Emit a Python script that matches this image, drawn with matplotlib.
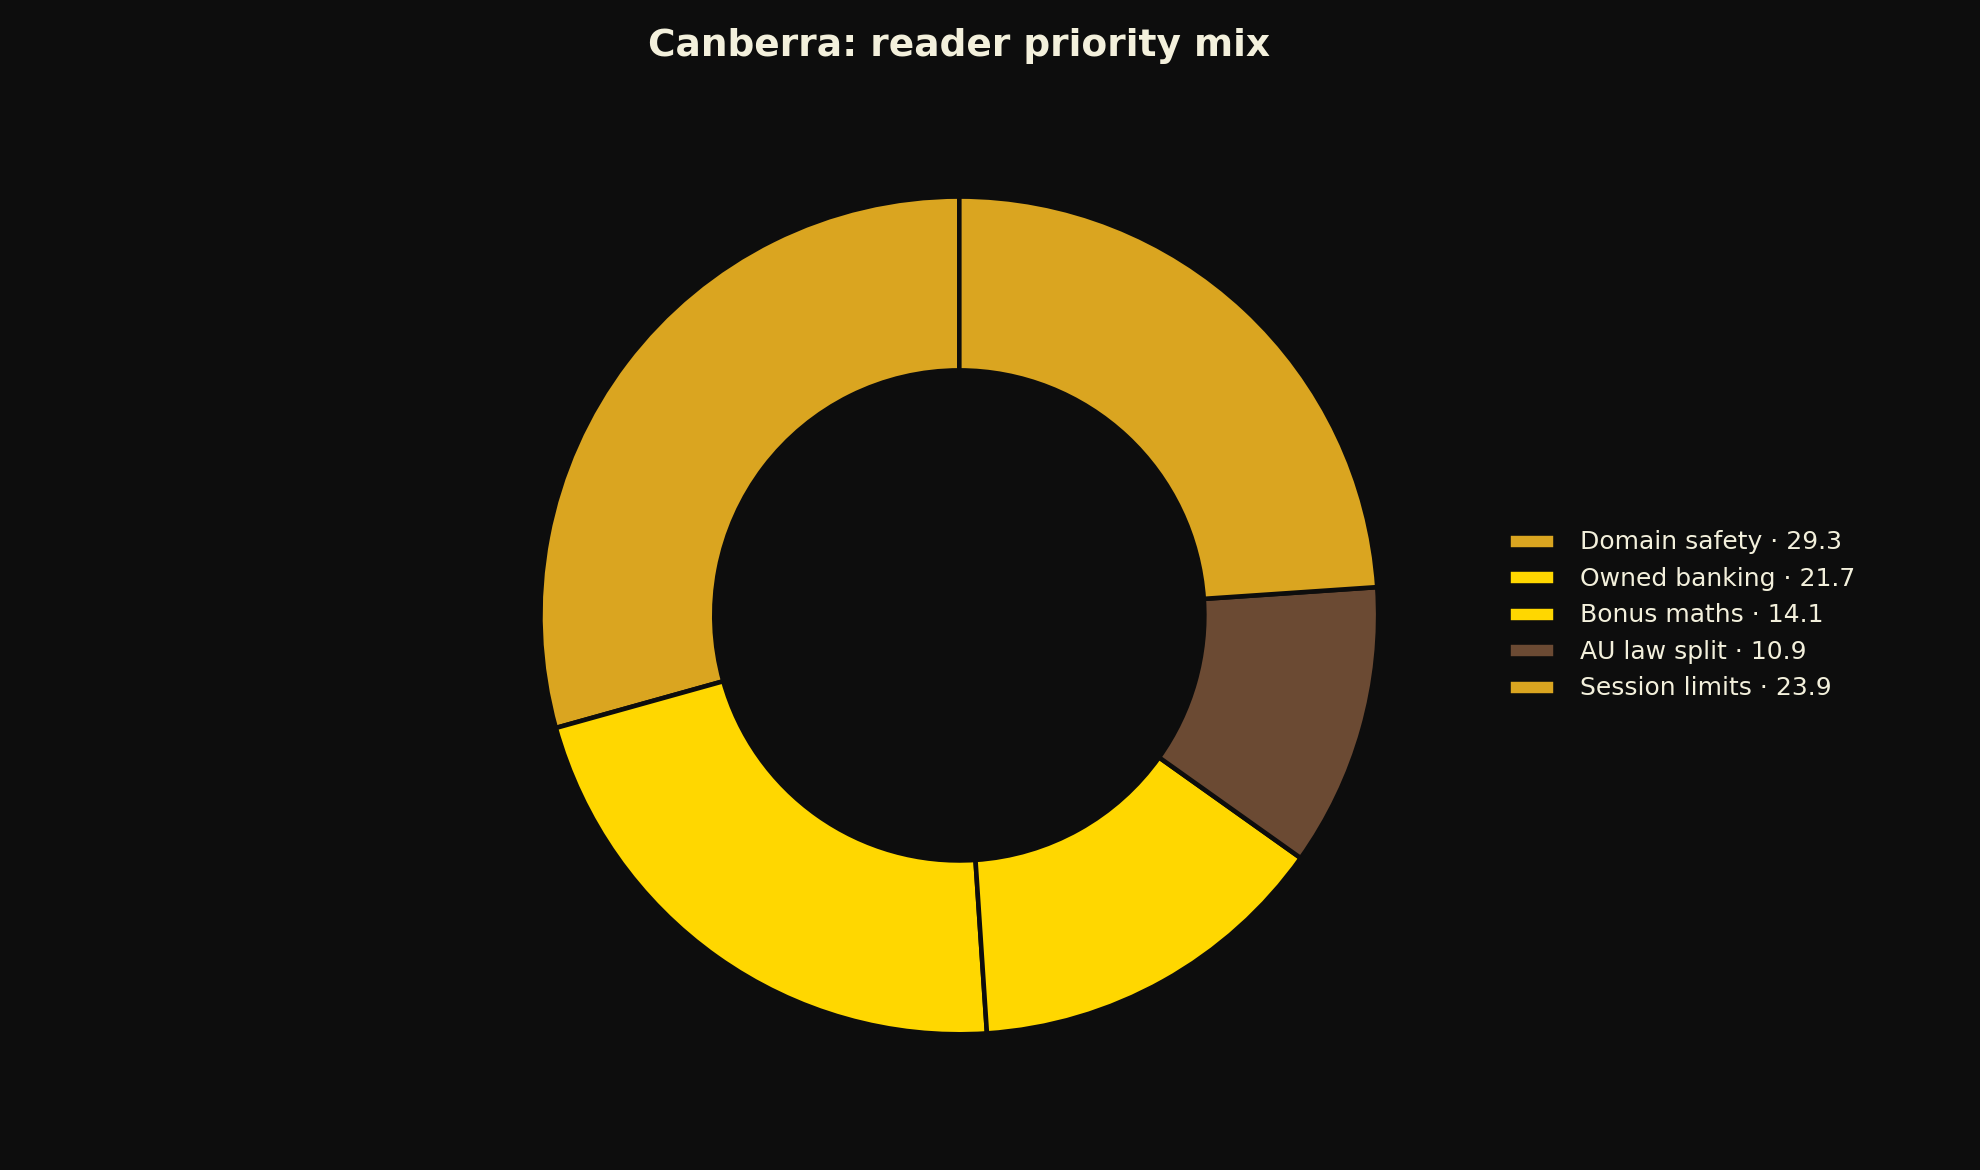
import matplotlib
matplotlib.use('Agg')
import matplotlib.pyplot as plt

labels = ['Domain safety', 'Owned banking', 'Bonus maths', 'AU law split', 'Session limits']
values = [29.3, 21.7, 14.1, 10.9, 23.9]
colors = ['#DAA520', '#FFD700', '#FFD700', '#6B4A33', '#DAA520']

bg = '#0D0D0D'
txt = '#F3F0DC'

fig = plt.figure(figsize=(13.2, 7.8), dpi=150, facecolor=bg)
ax = fig.add_axes([0.220, 0.0265, 0.529, 0.895])
ax.set_facecolor(bg)

wedges, _ = ax.pie(values, colors=colors, startangle=90, counterclock=True,
                   wedgeprops=dict(width=0.415, edgecolor=bg, linewidth=2.2))
ax.set_xlim(-1.25, 1.25)
ax.set_ylim(-1.25, 1.25)
ax.set_aspect('equal')

leg_labels = [f'{l} \u00b7 {v}' for l, v in zip(labels, values)]
leg = fig.legend(wedges, leg_labels, loc='center left', bbox_to_anchor=(0.750, 0.474),
                 frameon=False, fontsize=12, labelcolor=txt,
                 handlelength=1.9, handleheight=0.6, handletextpad=1.0, labelspacing=0.5)

ax.set_title('Canberra: reader priority mix', color=txt, fontsize=18,
             fontweight='bold', pad=17)

fig.savefig('out.png', dpi=150, facecolor=bg)
